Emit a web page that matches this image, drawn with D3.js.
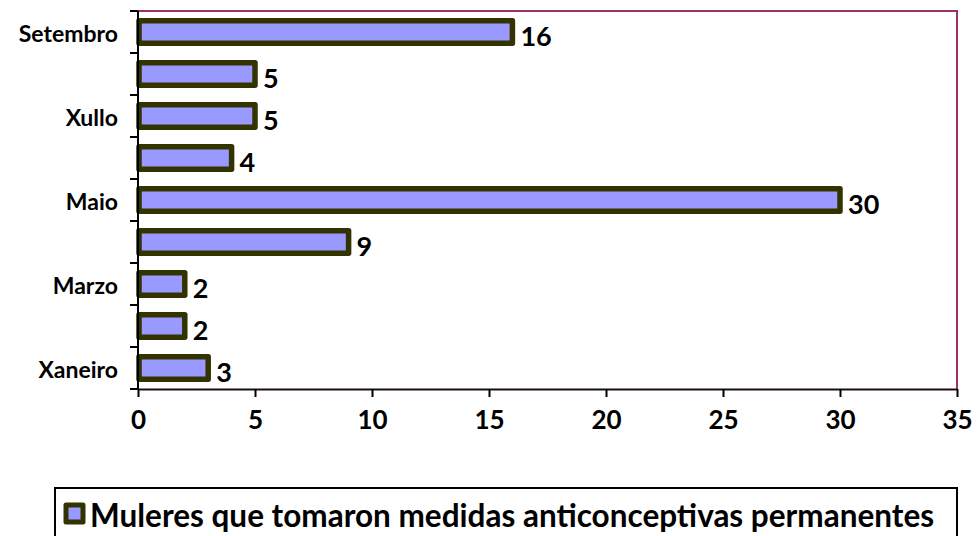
<!DOCTYPE html>
<html lang="gl">
<head>
    <meta charset="utf-8">
    <title>Muleres que tomaron medidas anticonceptivas permanentes</title>
    <script src="https://d3js.org/d3.v7.min.js"></script>
    <style>
        body{
            margin: 0;
            background: #fff;
        }
        text{
            font-family: Lato, "Open Sans", sans-serif;
            font-weight: bold;
            fill: #000;
        }
        .ylabel{ font-size: 23px; }
        .xlabel{ font-size: 26px; }
        .value{ font-size: 27px; }
        .legendText{ font-size: 31.5px; }
    </style>
</head>
<body>
    <div id="chart"></div>
    <script>

    // data, bottom to top as in the original sheet
    var months = ["Xaneiro", "Febreiro", "Marzo", "Abril", "Maio", "Xuño", "Xullo", "Agosto", "Setembro"]
    var counts = [3, 2, 2, 9, 30, 4, 5, 5, 16]
    var xTicks = [0, 5, 10, 15, 20, 25, 30, 35]
    var seriesName = "Muleres que tomaron medidas anticonceptivas permanentes"

    var width = 977
    var height = 536

    // plot area
    var plotLeft = 138, plotRight = 957, plotTop = 11, plotBottom = 389

    var svg = d3.select("#chart")
      .append("svg")
        .attr("width", width)
        .attr("height", height)

    var x = d3.scaleLinear()
        .domain([0, 35])
        .range([plotLeft, plotRight])

    var y = d3.scaleBand()
        .domain(months.slice().reverse())
        .range([plotTop, plotBottom])
        .paddingInner(0.47)
        .paddingOuter(0.235)

    var data = months.map((m, i) => ({month: m, value: counts[i]}))

    // frame: top and right edges in the plot border colour
    svg.append("path")
        .attr("d", "M" + plotLeft + "," + plotTop + "H" + plotRight + "V" + plotBottom)
        .attr("fill", "none")
        .attr("stroke", "#993366")
        .attr("stroke-width", 2)

    // bars
    svg.append("g")
      .selectAll("rect")
      .data(data)
      .enter()
      .append("rect")
        .attr("x", x(0) + 1)
        .attr("y", d => y(d.month))
        .attr("width", d => x(d.value) - x(0) - 1)
        .attr("height", y.bandwidth())
        .attr("fill", "#9999ff")
        .attr("stroke", "#333300")
        .attr("stroke-width", 5.5)
        .attr("stroke-linejoin", "round")

    // value labels
    svg.append("g")
      .selectAll("text")
      .data(data)
      .enter()
      .append("text")
        .attr("class", "value")
        .attr("x", d => x(d.value) + 8)
        .attr("y", d => y(d.month) + y.bandwidth() / 2 + 3)
        .attr("dominant-baseline", "central")
        .text(d => d.value)

    // y axis: ticks between categories, every second label shown
    var yAxis = svg.append("g")
    yAxis.append("line")
        .attr("x1", plotLeft).attr("x2", plotLeft)
        .attr("y1", plotTop).attr("y2", plotBottom)
        .attr("stroke", "#000").attr("stroke-width", 2)
    yAxis.selectAll("line.tick")
      .data(d3.range(months.length + 1))
      .enter()
      .append("line")
        .attr("class", "tick")
        .attr("x1", plotLeft - 8).attr("x2", plotLeft)
        .attr("y1", i => plotTop + i * y.step())
        .attr("y2", i => plotTop + i * y.step())
        .attr("stroke", "#000").attr("stroke-width", 2)
    yAxis.selectAll("text")
      .data(months.filter((m, i) => i % 2 == 0))
      .enter()
      .append("text")
        .attr("class", "ylabel")
        .attr("x", 118)
        .attr("y", d => y(d) + y.bandwidth() / 2 + 1)
        .attr("text-anchor", "end")
        .attr("dominant-baseline", "central")
        .text(d => d)

    // x axis
    var xAxis = svg.append("g")
        .attr("transform", "translate(0," + plotBottom + ")")
        .call(d3.axisBottom(x).tickValues(xTicks).tickSize(8).tickSizeOuter(0).tickPadding(14))
    xAxis.select(".domain").attr("stroke", "#1a0d14").attr("stroke-width", 2)
    xAxis.selectAll(".tick line").attr("stroke", "#000").attr("stroke-width", 2)
    xAxis.selectAll(".tick text")
        .attr("class", "xlabel")
        .attr("fill", "#000")
        .attr("font-size", null)
        .attr("font-family", null)

    // legend
    var legend = svg.append("g")
    legend.append("rect")
        .attr("x", 55).attr("y", 488)
        .attr("width", 902).attr("height", 60)
        .attr("fill", "#fff")
        .attr("stroke", "#000").attr("stroke-width", 2)
    legend.append("rect")
        .attr("x", 66).attr("y", 505)
        .attr("width", 17).attr("height", 17)
        .attr("fill", "#9999ff")
        .attr("stroke", "#333300").attr("stroke-width", 5)
        .attr("stroke-linejoin", "round")
    legend.append("text")
        .attr("class", "legendText")
        .attr("x", 90)
        .attr("y", 515)
        .attr("dominant-baseline", "central")
        .text(seriesName)

    </script>
</body>
</html>
